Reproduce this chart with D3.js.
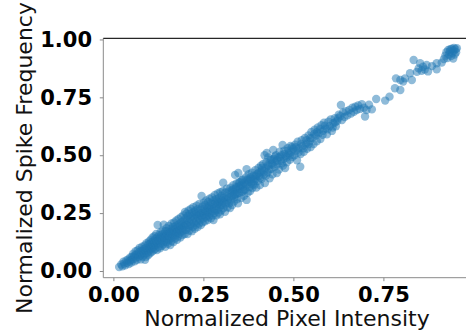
<!DOCTYPE html>
<html>
<head>
<meta charset="utf-8">
<script src="https://cdn.jsdelivr.net/npm/d3@7"></script>
<style>
  html, body { margin: 0; padding: 0; background: #fff; }
  svg { display: block; }
</style>
</head>
<body>
<script>
// values: [pixel intensity, spike frequency]
const points = [
  [0.016,0.017],[0.022,0.028],[0.025,0.02],[0.028,0.04],[0.03,0.032],[0.033,0.025],[0.036,0.045],[0.038,0.035],[0.041,0.05],[0.043,0.03],
  [0.045,0.042],[0.047,0.058],[0.049,0.048],[0.05,0.036],[0.052,0.062],
  [0.054,0.05],[0.055,0.075],[0.057,0.062],[0.059,0.042],[0.06,0.068],[0.062,0.085],[0.063,0.058],[0.065,0.072],[0.066,0.048],[0.068,0.09],
  [0.069,0.07],[0.07,0.06],[0.072,0.082],[0.073,0.1],[0.075,0.066],[0.076,0.05],[0.078,0.088],[0.079,0.075],[0.08,0.105],[0.082,0.062],
  [0.083,0.085],[0.085,0.095],[0.086,0.072],[0.087,0.11],[0.088,0.048],[0.089,0.088],[0.09,0.06],[0.091,0.1],[0.092,0.12],[0.093,0.078],
  [0.095,0.092],[0.096,0.068],[0.097,0.115],[0.098,0.085],[0.099,0.128],[0.1,0.1],
  [0.101,0.075],[0.102,0.118],[0.103,0.095],[0.104,0.135],[0.105,0.108],[0.106,0.082],[0.107,0.125],[0.108,0.098],[0.109,0.145],[0.11,0.115],
  [0.111,0.088],[0.112,0.13],[0.113,0.105],[0.114,0.15],[0.115,0.122],[0.116,0.095],[0.117,0.138],[0.118,0.112],[0.119,0.16],[0.12,0.128],
  [0.121,0.09],[0.122,0.145],[0.123,0.199],[0.124,0.118],[0.125,0.135],[0.126,0.105],[0.127,0.155],[0.128,0.13],[0.129,0.098],[0.13,0.145],
  [0.131,0.168],[0.132,0.12],[0.133,0.14],[0.134,0.108],[0.135,0.158],[0.136,0.132],[0.137,0.175],[0.138,0.115],[0.139,0.148],[0.14,0.2],
  [0.141,0.128],[0.142,0.162],[0.143,0.142],[0.144,0.105],[0.145,0.172],[0.146,0.152],[0.147,0.125],[0.148,0.185],[0.149,0.16],[0.15,0.138],
  [0.151,0.118],[0.152,0.172],[0.153,0.152],[0.154,0.195],[0.155,0.135],[0.156,0.165],[0.157,0.148],[0.158,0.112],[0.159,0.182],[0.16,0.16],
  [0.161,0.128],[0.162,0.205],[0.163,0.172],[0.164,0.145],[0.165,0.19],[0.166,0.158],[0.167,0.125],[0.168,0.178],[0.169,0.21],[0.17,0.168],
  [0.171,0.14],[0.172,0.192],[0.173,0.155],[0.174,0.182],[0.175,0.218],[0.176,0.165],[0.177,0.135],[0.178,0.198],[0.179,0.175],[0.18,0.15],
  [0.181,0.225],[0.182,0.188],[0.183,0.162],[0.184,0.205],[0.185,0.178],[0.186,0.145],[0.187,0.195],[0.188,0.232],[0.189,0.17],[0.19,0.212],
  [0.191,0.185],[0.192,0.155],[0.193,0.2],[0.194,0.24],[0.195,0.175],[0.196,0.218],[0.197,0.192],[0.198,0.16],[0.199,0.255],[0.2,0.205],
  [0.201,0.228],[0.202,0.178],[0.203,0.248],[0.204,0.198],[0.205,0.222],[0.206,0.16],[0.207,0.238],[0.208,0.188],[0.209,0.262],[0.21,0.212],
  [0.211,0.175],[0.212,0.245],[0.213,0.225],[0.214,0.195],[0.215,0.268],[0.216,0.205],[0.217,0.235],[0.218,0.172],[0.219,0.252],[0.22,0.218],
  [0.221,0.19],[0.222,0.275],[0.223,0.24],[0.224,0.208],[0.225,0.255],[0.226,0.182],[0.227,0.228],[0.228,0.262],[0.229,0.2],[0.23,0.245],
  [0.231,0.282],[0.232,0.215],[0.233,0.238],[0.234,0.19],[0.235,0.268],[0.236,0.228],[0.237,0.252],[0.238,0.205],[0.239,0.29],[0.24,0.242],
  [0.241,0.22],[0.242,0.265],[0.243,0.198],[0.244,0.25],[0.245,0.324],[0.246,0.235],[0.247,0.278],[0.248,0.21],[0.249,0.258],[0.25,0.228],
  [0.251,0.295],[0.252,0.245],[0.253,0.268],[0.254,0.215],[0.255,0.285],[0.256,0.255],[0.257,0.232],[0.258,0.305],[0.259,0.262],[0.26,0.24],
  [0.261,0.278],[0.262,0.22],[0.263,0.298],[0.264,0.255],[0.265,0.272],[0.266,0.235],[0.267,0.312],[0.268,0.282],[0.269,0.25],[0.27,0.265],
  [0.271,0.228],[0.272,0.295],[0.273,0.275],[0.274,0.318],[0.275,0.258],[0.276,0.24],[0.277,0.288],[0.278,0.22],[0.279,0.305],[0.28,0.27],
  [0.281,0.25],[0.282,0.328],[0.283,0.292],[0.284,0.262],[0.285,0.31],[0.286,0.24],[0.287,0.282],[0.288,0.3],[0.289,0.265],[0.29,0.335],
  [0.291,0.292],[0.292,0.252],[0.293,0.315],[0.294,0.275],[0.295,0.298],[0.296,0.245],[0.297,0.34],[0.298,0.285],[0.299,0.308],[0.3,0.262],
  [0.301,0.325],[0.302,0.285],[0.303,0.305],[0.304,0.345],[0.305,0.381],[0.306,0.272],[0.307,0.315],[0.308,0.295],[0.31,0.256],[0.311,0.338],
  [0.312,0.31],[0.313,0.29],[0.315,0.355],[0.316,0.322],[0.317,0.275],[0.318,0.305],[0.32,0.342],[0.321,0.318],[0.322,0.292],[0.324,0.272],
  [0.325,0.36],[0.326,0.335],[0.327,0.308],[0.329,0.348],[0.33,0.285],[0.331,0.325],[0.333,0.37],[0.334,0.342],[0.335,0.3],[0.336,0.318],
  [0.338,0.415],[0.339,0.355],[0.34,0.332],[0.342,0.378],[0.343,0.31],[0.345,0.348],[0.346,0.292],[0.347,0.423],[0.348,0.365],[0.35,0.338],
  [0.332,0.352],[0.337,0.33],[0.341,0.362],[0.344,0.335],[0.349,0.382],[0.354,0.368],[0.357,0.392],[0.362,0.348],[0.367,0.375],[0.372,0.395],
  [0.352,0.385],[0.353,0.355],[0.355,0.315],[0.356,0.372],[0.358,0.342],[0.36,0.395],[0.361,0.365],[0.363,0.325],[0.364,0.382],[0.366,0.352],
  [0.368,0.405],[0.37,0.44],[0.37,0.307],[0.371,0.372],[0.373,0.338],[0.375,0.392],[0.376,0.418],[0.378,0.362],[0.38,0.345],[0.381,0.405],
  [0.383,0.38],[0.385,0.425],[0.386,0.358],[0.388,0.395],[0.39,0.412],[0.392,0.372],[0.394,0.435],[0.395,0.398],[0.397,0.36],[0.399,0.418],
  [0.377,0.385],[0.382,0.398],[0.387,0.375],[0.391,0.39],[0.396,0.41],
  [0.401,0.388],[0.403,0.445],[0.405,0.41],[0.407,0.371],[0.409,0.428],[0.41,0.455],[0.412,0.398],[0.414,0.435],[0.416,0.462],[0.418,0.415],
  [0.42,0.5],[0.421,0.38],[0.423,0.445],[0.425,0.47],[0.426,0.51],[0.428,0.425],[0.43,0.49],[0.432,0.455],[0.434,0.4],[0.436,0.478],
  [0.438,0.44],[0.44,0.465],[0.442,0.418],[0.444,0.523],[0.446,0.485],[0.448,0.45],[0.45,0.472],
  [0.404,0.425],[0.408,0.405],[0.413,0.445],[0.419,0.43],[0.424,0.412],[0.429,0.458],[0.433,0.438],[0.439,0.482],[0.443,0.46],[0.449,0.495],
  [0.452,0.5],[0.454,0.423],[0.456,0.46],[0.458,0.49],[0.46,0.438],[0.462,0.515],[0.465,0.475],[0.467,0.5],[0.47,0.544],[0.471,0.455],
  [0.473,0.485],[0.475,0.52],[0.477,0.445],[0.479,0.498],[0.482,0.47],[0.484,0.53],[0.487,0.508],[0.49,0.48],[0.492,0.54],[0.495,0.515],
  [0.497,0.492],[0.5,0.528],
  [0.455,0.478],[0.463,0.492],[0.468,0.465],[0.474,0.505],[0.481,0.49],[0.486,0.52],[0.491,0.5],[0.496,0.535],
  [0.503,0.5],[0.505,0.545],[0.508,0.52],[0.51,0.478],[0.512,0.558],[0.515,0.53],[0.519,0.45],[0.52,0.505],[0.523,0.565],[0.526,0.54],
  [0.529,0.515],[0.532,0.575],[0.535,0.55],[0.538,0.528],[0.542,0.585],[0.545,0.56],[0.548,0.535],[0.55,0.6],
  [0.507,0.535],[0.514,0.512],[0.521,0.548],[0.528,0.53],[0.536,0.565],[0.543,0.548],[0.547,0.575],
  [0.553,0.575],[0.556,0.548],[0.559,0.61],[0.562,0.585],[0.565,0.56],[0.568,0.62],[0.571,0.595],[0.575,0.57],[0.578,0.63],[0.582,0.605],
  [0.585,0.64],[0.589,0.615],[0.593,0.59],[0.597,0.645],
  [0.558,0.592],[0.566,0.6],[0.574,0.612],[0.581,0.588],[0.588,0.628],[0.595,0.612],
  [0.601,0.625],[0.604,0.655],[0.607,0.605],[0.611,0.638],[0.615,0.66],[0.618,0.625],[0.622,0.648],[0.626,0.675],[0.632,0.717],[0.635,0.652],
  [0.638,0.685],[0.642,0.665],[0.646,0.69],[0.65,0.672],
  [0.609,0.62],[0.616,0.642],[0.624,0.66],[0.63,0.668],
  [0.655,0.695],[0.66,0.68],[0.664,0.705],[0.668,0.688],[0.672,0.71],[0.676,0.695],[0.68,0.715],[0.685,0.7],[0.69,0.72],[0.696,0.705],
  [0.699,0.667],[0.703,0.695],[0.71,0.718],[0.718,0.698],
  [0.73,0.743],[0.755,0.736],[0.767,0.753],[0.782,0.789],[0.797,0.782],[0.785,0.832],[0.797,0.825],[0.81,0.832],[0.805,0.818],[0.824,0.854],
  [0.829,0.825],[0.834,0.911],[0.843,0.86],[0.848,0.875],[0.852,0.897],[0.856,0.865],[0.86,0.882],[0.865,0.87],[0.87,0.89],[0.874,0.862],
  [0.885,0.885],[0.898,0.897],[0.912,0.9],[0.898,0.871],
  [0.918,0.915],[0.922,0.93],[0.925,0.945],[0.928,0.92],[0.93,0.955],[0.932,0.935],[0.935,0.948],[0.938,0.928],[0.94,0.96],[0.942,0.942],
  [0.945,0.952],[0.948,0.935],[0.95,0.958],[0.952,0.945],[0.954,0.962],[0.946,0.963],[0.936,0.958],[0.944,0.918]
];

const xTicks = [0, 0.25, 0.5, 0.75];
const yTicks = [0, 0.25, 0.5, 0.75, 1.0];
const xLabel = 'Normalized Pixel Intensity';
const yLabel = 'Normalized Spike Frequency';

const W = 466, H = 335;
const margin = {left: 103.3, top: 38.3};
const plotW = 370.1, plotH = 239.4;

const svg = d3.select('body').append('svg')
  .attr('width', W)
  .attr('height', H);

const x = d3.scaleLinear().domain([-0.028, 1.0]).range([0, plotW]);
const y = d3.scaleLinear().domain([-0.029, 1.005]).range([plotH, 0]);

const g = svg.append('g')
  .attr('transform', `translate(${margin.left},${margin.top})`);

// points
g.append('g')
  .selectAll('circle')
  .data(points)
  .join('circle')
    .attr('cx', d => x(d[0]))
    .attr('cy', d => y(d[1]))
    .attr('r', 4.2)
    .attr('fill', '#1f77b4')
    .attr('fill-opacity', 0.5);

// axes
const fmt = d3.format('.2f');
const xAxis = g.append('g')
  .attr('transform', `translate(0,${plotH})`)
  .call(d3.axisBottom(x).tickValues(xTicks).tickFormat(fmt).tickSize(3.5).tickPadding(6));
const yAxis = g.append('g')
  .call(d3.axisLeft(y).tickValues(yTicks).tickFormat(fmt).tickSize(3.5).tickPadding(7.8));

[xAxis, yAxis].forEach(a => {
  a.select('.domain').remove();
  a.selectAll('.tick line').attr('stroke', '#8a8a8a').attr('stroke-width', 1);
  a.selectAll('.tick text')
    .attr('fill', '#000')
    .style('font-family', '"DejaVu Sans", sans-serif')
    .style('font-weight', 'bold')
    .style('font-size', '21px');
});

// spines
g.append('line').attr('x1', 0).attr('x2', 0).attr('y1', 0).attr('y2', plotH)
  .attr('stroke', '#8a8a8a').attr('stroke-width', 1);
g.append('line').attr('x1', 0).attr('x2', plotW).attr('y1', plotH).attr('y2', plotH)
  .attr('stroke', '#8a8a8a').attr('stroke-width', 1);
g.append('line').attr('x1', 0).attr('x2', plotW).attr('y1', 0).attr('y2', 0)
  .attr('stroke', '#262626').attr('stroke-width', 1.2);
g.append('line').attr('x1', plotW).attr('x2', plotW).attr('y1', 0).attr('y2', plotH)
  .attr('stroke', '#262626').attr('stroke-width', 1.2);

// labels
svg.append('text')
  .attr('x', 287)
  .attr('y', 326)
  .attr('text-anchor', 'middle')
  .style('font-family', '"DejaVu Sans", sans-serif')
  .style('font-size', '22px')
  .attr('fill', '#111')
  .text(xLabel);

svg.append('text')
  .attr('transform', 'translate(31.5,158) rotate(-90)')
  .attr('text-anchor', 'middle')
  .style('font-family', '"DejaVu Sans", sans-serif')
  .style('font-size', '22px')
  .attr('fill', '#111')
  .text(yLabel);
</script>
</body>
</html>
